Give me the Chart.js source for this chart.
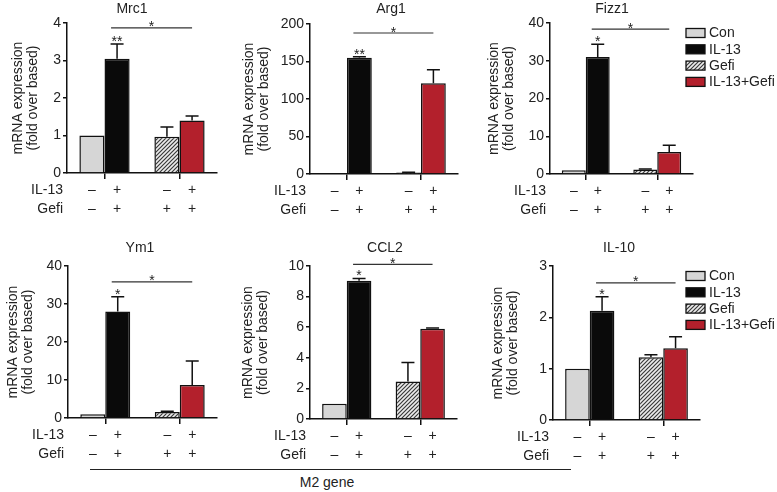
<!DOCTYPE html>
<html lang="en">
<head>
<meta charset="UTF-8">
<title>M2 gene expression</title>
<script src="https://cdn.jsdelivr.net/npm/chart.js"></script>
<style>
  body { margin: 0; background: #fff; }
  #wrap { position: relative; width: 777px; height: 492px; overflow: hidden; }
  #wrap canvas { position: absolute; left: 0; top: 0; }
  .m2line { position: absolute; left: 90px; top: 469px; width: 481px; border-top: 1.5px solid #222; }
  .m2text { position: absolute; left: 277px; width: 100px; top: 474px; text-align: center;
            font: 14px "Liberation Sans", Arial, sans-serif; color: #222; }
</style>
</head>
<body>
<div id="wrap">
  <div class="m2line"></div>
  <div class="m2text">M2 gene</div>
</div>
<script>
// data
const conditions = ['Con', 'IL-13', 'Gefi', 'IL-13+Gefi'];
const genes = ['Mrc1', 'Arg1', 'Fizz1', 'Ym1', 'CCL2', 'IL-10'];
const yMax = [4, 200, 40, 40, 10, 3];
const yStep = [1, 50, 10, 10, 2, 1];

const mrc1 = [1.0, 3.05, 0.97, 1.40];
const arg1 = [1.0, 155, 2.0, 121];
const fizz1 = [1.0, 31, 1.2, 5.8];
const ym1 = [1.0, 28, 1.6, 8.7];
const ccl2 = [1.0, 9.04, 2.45, 5.9];
const il10 = [1.0, 2.13, 1.22, 1.40];

const mrc1Err = [0, 0.39, 0.26, 0.12];
const arg1Err = [0, 1.5, 0.5, 18];
const fizz1Err = [0, 3.4, 0.1, 1.8];
const ym1Err = [0, 3.9, 0.2, 6.3];
const ccl2Err = [0, 0.15, 1.25, 0.05];
const il10Err = [0, 0.27, 0.05, 0.22];

const il13Marks = ['**', '**', '*', '*', '*', '*'];
const bracketLevel = [3.87, 188, 38.4, 35.8, 10.1, 2.67];
const il13Row = ['\u2013', '+', '\u2013', '+'];
const gefiRow = ['\u2013', '+', '+', '+'];

const values = [mrc1, arg1, fizz1, ym1, ccl2, il10];
const errors = [mrc1Err, arg1Err, fizz1Err, ym1Err, ccl2Err, il10Err];

// panel geometry (page pixels)
const panels = [
  { axis: 67,  right: 217, top: 23,  zero: 173, tx: 132, ty: 8,   yt: 18,  legend: false },
  { axis: 310, right: 458, top: 24,  zero: 174, tx: 391, ty: 8,   yt: 249, legend: false },
  { axis: 550, right: 693, top: 23,  zero: 174, tx: 612, ty: 8,   yt: 494, legend: true },
  { axis: 68,  right: 217, top: 266, zero: 418, tx: 140, ty: 247, yt: 13,  legend: false },
  { axis: 310, right: 457, top: 266, zero: 419, tx: 385, ty: 247, yt: 248, legend: false },
  { axis: 553, right: 700, top: 266, zero: 420, tx: 619, ty: 247, yt: 498, legend: true }
];

const W = 777, H = 492, YW = 30, XH = 8;
const FONT = '"Liberation Sans", Arial, sans-serif';
const INK = '#222';
const conColor = '#d6d6d6';
const il13Color = '#0a0a0a';
const redColor = '#b3202c';

function makeHatch(ctx) {
  const c = document.createElement('canvas');
  c.width = 4; c.height = 4;
  const g = c.getContext('2d');
  g.fillStyle = '#ececec';
  g.fillRect(0, 0, 4, 4);
  g.strokeStyle = '#3a3a3a';
  g.lineWidth = 1.2;
  g.beginPath();
  g.moveTo(-1, 5); g.lineTo(5, -1);
  g.moveTo(-1, 1); g.lineTo(1, -1);
  g.moveTo(3, 5); g.lineTo(5, 3);
  g.stroke();
  return ctx.createPattern(c, 'repeat');
}

// bar element for each condition: [datasetIndex, index]
const slot = [[0, 0], [1, 0], [0, 1], [1, 1]];

function extras(i, hatch) {
  const P = panels[i];
  return {
    id: 'extras' + i,
    afterDatasetsDraw(chart) {
      const ctx = chart.ctx, y = chart.scales.y;
      const bars = slot.map(s => chart.getDatasetMeta(s[0]).data[s[1]]);
      ctx.save();
      ctx.strokeStyle = '#111';
      ctx.lineWidth = 1.5;
      // error bars (upper only)
      bars.forEach((b, k) => {
        const e = errors[i][k];
        if (!e) return;
        const top = y.getPixelForValue(values[i][k] + e);
        ctx.beginPath();
        ctx.moveTo(b.x, b.y);
        ctx.lineTo(b.x, top);
        ctx.moveTo(b.x - 6.5, top);
        ctx.lineTo(b.x + 6.5, top);
        ctx.stroke();
      });
      ctx.fillStyle = INK;
      ctx.font = '14px ' + FONT;
      ctx.textAlign = 'center';
      ctx.textBaseline = 'alphabetic';
      // significance vs Con
      const capTop = y.getPixelForValue(values[i][1] + errors[i][1]);
      ctx.fillText(il13Marks[i], bars[1].x, capTop + 2);
      // bracket IL-13 vs IL-13+Gefi
      const by = y.getPixelForValue(bracketLevel[i]);
      ctx.lineWidth = 1.2;
      ctx.strokeStyle = '#333';
      ctx.beginPath();
      ctx.moveTo(bars[1].x - 6, by);
      ctx.lineTo(bars[3].x, by);
      ctx.stroke();
      ctx.fillText('*', (bars[1].x - 6 + bars[3].x) / 2, by + 3.5);
      ctx.restore();
    },
    afterDraw(chart) {
      const ctx = chart.ctx;
      const bars = slot.map(s => chart.getDatasetMeta(s[0]).data[s[1]]);
      ctx.save();
      ctx.fillStyle = INK;
      ctx.font = '14px ' + FONT;
      ctx.textBaseline = 'middle';
      // panel title
      ctx.textAlign = 'center';
      ctx.fillText(genes[i], P.tx, P.ty + 1);
      // treatment table
      ctx.textAlign = 'right';
      ctx.fillText('IL-13', P.axis - 4, P.zero + 17);
      ctx.fillText('Gefi', P.axis - 4, P.zero + 36);
      ctx.textAlign = 'center';
      bars.forEach((b, k) => {
        ctx.fillText(il13Row[k], b.x, P.zero + 17);
        ctx.fillText(gefiRow[k], b.x, P.zero + 36);
      });
      // y axis title
      ctx.save();
      ctx.translate(P.yt, (P.top + P.zero) / 2);
      ctx.rotate(-Math.PI / 2);
      ctx.fillText('mRNA expression', 0, 0);
      ctx.fillText('(fold over based)', 0, 15);
      ctx.restore();
      // legend
      if (P.legend) {
        const fills = [conColor, il13Color, hatch, redColor];
        const y0 = P.top + 10;
        conditions.forEach((c, k) => {
          const yy = y0 + k * 16.3;
          ctx.fillStyle = fills[k];
          ctx.fillRect(686, yy - 4.5, 19, 9);
          ctx.strokeStyle = '#111';
          ctx.lineWidth = 1.3;
          ctx.strokeRect(686, yy - 4.5, 19, 9);
          ctx.fillStyle = INK;
          ctx.textAlign = 'left';
          ctx.fillText(c, 709, yy + 0.5);
        });
      }
      ctx.restore();
    }
  };
}

const wrap = document.getElementById('wrap');

panels.forEach((P, i) => {
  const cv = document.createElement('canvas');
  cv.width = W; cv.height = H;
  wrap.appendChild(cv);
  const hatch = makeHatch(cv.getContext('2d'));
  const v = values[i];
  new Chart(cv, {
    type: 'bar',
    data: {
      labels: ['Gefi -', 'Gefi +'],
      datasets: [
        { label: 'IL-13 -', data: [v[0], v[2]], backgroundColor: [conColor, hatch] },
        { label: 'IL-13 +', data: [v[1], v[3]], backgroundColor: [il13Color, redColor] }
      ]
    },
    options: {
      responsive: false,
      animation: false,
      events: [],
      layout: { padding: { left: P.axis - YW, right: W - P.right, top: P.top, bottom: H - P.zero - XH } },
      datasets: { bar: { barPercentage: 1, categoryPercentage: 0.67, borderColor: '#111', borderWidth: 1.5 } },
      plugins: { legend: { display: false }, tooltip: { enabled: false } },
      scales: {
        x: {
          ticks: { display: false },
          grid: { drawOnChartArea: false, offset: false, tickLength: 6, color: '#111', lineWidth: 1.5 },
          border: { color: '#111', width: 1.5 },
          afterFit: s => { s.height = XH; }
        },
        y: {
          min: 0, max: yMax[i],
          ticks: { stepSize: yStep[i], padding: 2, color: INK, font: { family: FONT, size: 14 } },
          grid: { drawOnChartArea: false, tickLength: 4, color: '#111', lineWidth: 1.5 },
          border: { color: '#111', width: 1.5 },
          afterFit: s => { s.width = YW; }
        }
      }
    },
    plugins: [extras(i, hatch)]
  });
});
</script>
</body>
</html>
